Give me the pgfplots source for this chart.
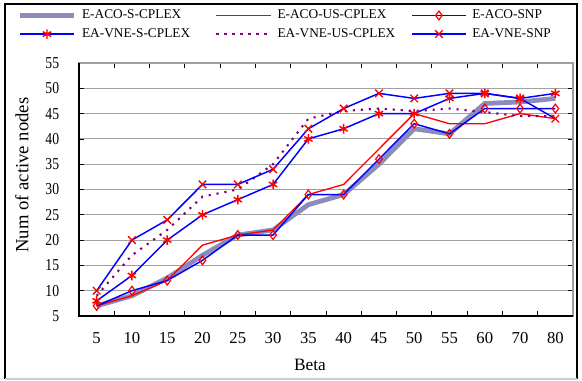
\documentclass[border=0pt]{standalone}
\usepackage{fontspec}
\setmainfont{Liberation Serif}
\usepackage{pgfplots}
\pgfplotsset{compat=1.18}
\definecolor{grayband}{RGB}{140,140,188}
\definecolor{dpurple}{RGB}{128,0,128}
\definecolor{gridgray}{RGB}{160,160,160}
\begin{document}
\begin{tikzpicture}[x=1pt,y=1pt]
\useasboundingbox (-59.25,-48.75) rectangle (377.25,237);
\begin{axis}[
  at={(0,0)}, anchor=south west, scale only axis,
  width=370.5pt, height=189.75pt,
  xmin=-0.5, xmax=13.5, ymin=5, ymax=55,
  ytick={5,10,...,55},
  xtick={0.5,1.5,...,12.5}, xticklabels={},
  extra x ticks={0,1,...,13},
  extra x tick labels={5,10,15,20,25,30,35,40,45,50,55,60,70,80},
  extra x tick style={major tick length=0pt},
  xticklabel style={yshift=-9pt},
  yticklabel style={xshift=-12pt, xscale=0.82},
  tick label style={font=\fontsize{12.5}{14}\selectfont},
  /pgf/number format/assume math mode=true,
  ymajorgrids, grid style={gridgray, line width=0.7pt},
  axis line style={gridgray, line width=0.8pt},
  tick style={black, line width=0.6pt}, major tick length=3.75pt,
  tick align=inside,
  xlabel={Beta}, ylabel={Num of active nodes},
  xlabel style={at={(axis description cs:0.4676,-0.1937)}, anchor=center, font=\fontsize{13}{15}\selectfont},
  ylabel style={at={(axis description cs:-0.1154,0.557)}, anchor=center, font=\fontsize{14}{16}\selectfont},
  legend columns=3,
  legend cell align=left,
  legend style={at={(axis description cs:-0.1255,1.226)}, anchor=north west, draw=none, fill=none, inner sep=0pt,
    font=\fontsize{10}{12}\selectfont, nodes={inner sep=2pt, text height=7.5pt, text depth=2.5pt},
    /tikz/every odd column/.append style={column sep=2pt}},
  legend image code/.code={\draw[mark repeat=2,mark phase=2,#1] plot coordinates {(0pt,0pt) (20.5pt,0pt) (41pt,0pt)};},
]
\addplot[color=grayband, line width=3.6pt] coordinates {
(0,7) (1,9) (2,12.5) (3,17) (4,21) (5,22) (6,27) (7,29) (8,35) (9,42) (10,41) (11,47) (12,47.3) (13,48)};
\addlegendentry{\makebox[98pt][l]{E-ACO-S-CPLEX}}
\addplot[red, line width=1pt] coordinates {
(0,7) (1,9) (2,12) (3,19) (4,21) (5,22) (6,29) (7,31) (8,38) (9,45) (10,43) (11,43) (12,45) (13,44)};
\addlegendentry{\makebox[98pt][l]{E-ACO-US-CPLEX}}
\addplot[blue, line width=1.1pt, mark=diamond, mark size=3.3pt, mark options={red, fill=white, line width=0.9pt, solid}] coordinates {
(0,7) (1,10) (2,12) (3,16) (4,21) (5,21) (6,29) (7,29) (8,36) (9,43) (10,41) (11,46) (12,46) (13,46)};
\addlegendentry{\makebox[98pt][l]{E-ACO-SNP}}
\addplot[blue, line width=1.1pt, mark=asterisk, mark size=3.6pt, mark options={red, line width=1.1pt}] coordinates {
(0,8) (1,13) (2,20) (3,25) (4,28) (5,31) (6,40) (7,42) (8,45) (9,45) (10,48) (11,49) (12,48) (13,49)};
\addlegendentry{\makebox[98pt][l]{EA-VNE-S-CPLEX}}
\addplot[dpurple, line width=1.6pt, dash pattern=on 1.6pt off 4.4pt] coordinates {
(0,9) (1,17) (2,22) (3,28.6) (4,30) (5,35) (6,44) (7,45.5) (8,46) (9,45.5) (10,46) (11,45.3) (12,44.5) (13,44.5)};
\addlegendentry{\makebox[98pt][l]{EA-VNE-US-CPLEX}}
\addplot[blue, line width=1.1pt, mark=x, mark size=4pt, mark options={red, line width=1pt}] coordinates {
(0,10) (1,20) (2,24) (3,31) (4,31) (5,34) (6,42) (7,46) (8,49) (9,48) (10,49) (11,49) (12,48) (13,44)};
\addlegendentry{\makebox[98pt][l]{EA-VNE-SNP}}
\end{axis}
\draw[black, line width=0.8pt] (0,189.75) -- (0,0) -- (370.5,0);
\draw[black, line width=0.8pt] (-55.5,-47.25) -- (-55.5,234) -- (373.5,234) -- (373.5,-47.25);
\draw[gray!40, line width=0.8pt] (-55.5,-47.25) -- (373.5,-47.25);
\end{tikzpicture}
\end{document}
